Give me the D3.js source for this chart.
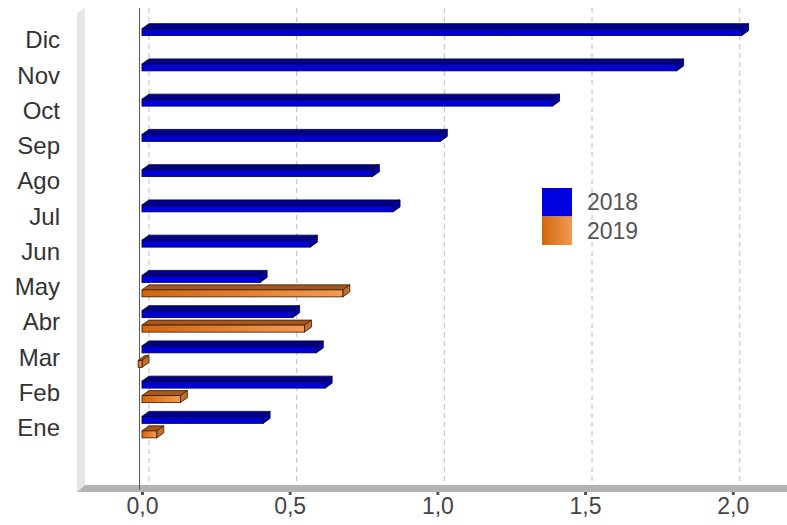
<!DOCTYPE html>
<html>
<head>
<meta charset="utf-8">
<script src="https://cdn.jsdelivr.net/npm/d3@7"></script>
<style>
  body { margin: 0; background: #fff; }
  svg { display: block; font-family: "Liberation Sans", Arial, sans-serif; }
</style>
</head>
<body>
<svg width="787" height="525"></svg>
<script>
var months = ["Ene", "Feb", "Mar", "Abr", "May", "Jun", "Jul", "Ago", "Sep", "Oct", "Nov", "Dic"];
var series = ["2018", "2019"];
var values2018 = [0.41, 0.62, 0.59, 0.51, 0.40, 0.57, 0.85, 0.78, 1.01, 1.39, 1.81, 2.03];
var values2019 = [0.05, 0.13, -0.013, 0.55, 0.68, null, null, null, null, null, null, null];
var xTicks = [0, 0.5, 1, 1.5, 2];

var svg = d3.select("svg"),
    width = +svg.attr("width"),
    height = +svg.attr("height");

var dx = 7, dy = 5;           // depth of bars
var wdx = 8, wdy = 7;         // depth of wall / floor
var plotLeft = 77, plotRight = 780, plotTop = 13, plotBottom = 492;

var x = d3.scaleLinear().domain([-0.22, 2.16]).range([plotLeft, plotRight]);
var y = d3.scaleBand().domain(months).range([446, 23]);
var ySub = d3.scaleBand().domain(series).range([-12, 9.5]).paddingInner(0.517);

var locale = d3.formatLocale({ decimal: ",", thousands: ".", grouping: [3], currency: ["", "€"] });
var fmt = locale.format(".1f");

var defs = svg.append("defs");
var og = defs.append("linearGradient").attr("id", "orangeGrad")
    .attr("x1", "0%").attr("x2", "100%").attr("y1", "0%").attr("y2", "0%");
og.append("stop").attr("offset", "0%").attr("stop-color", "#d2660f");
og.append("stop").attr("offset", "100%").attr("stop-color", "#f49a52");

var bg = defs.append("linearGradient").attr("id", "blueGrad")
    .attr("x1", "0%").attr("x2", "0%").attr("y1", "0%").attr("y2", "100%");
bg.append("stop").attr("offset", "0%").attr("stop-color", "#0000b8");
bg.append("stop").attr("offset", "100%").attr("stop-color", "#0000f0");

var styles = {
    "2018": { front: "url(#blueGrad)", top: "#00008a", side: "#0000a8", stroke: "#000030", swatch: "#0000e0" },
    "2019": { front: "url(#orangeGrad)", top: "#a8561f", side: "#c0702e", stroke: "#3a1a00", swatch: "url(#orangeGrad)" }
};

// wall
svg.append("path")
    .attr("d", "M" + plotLeft + "," + plotBottom + "L" + plotLeft + "," + plotTop +
        "L" + (plotLeft + wdx) + "," + (plotTop - 5) + "L" + (plotLeft + wdx) + "," + (plotBottom - wdy) + "Z")
    .attr("fill", "#e6e6e6");

// floor
svg.append("path")
    .attr("d", "M" + plotLeft + "," + plotBottom + "L" + (plotLeft + wdx) + "," + (plotBottom - wdy) +
        "L" + width + "," + (plotBottom - wdy) + "L" + width + "," + plotBottom + "Z")
    .attr("fill", "#b3b3b3");

// grid lines (back plane)
svg.append("g")
    .selectAll("line")
    .data(xTicks)
    .enter().append("line")
    .attr("x1", function (d) { return x(d) + dx; })
    .attr("x2", function (d) { return x(d) + dx; })
    .attr("y1", plotTop - 5)
    .attr("y2", plotBottom - wdy)
    .attr("stroke", "#c8c8c8")
    .attr("stroke-width", 1.2)
    .attr("stroke-dasharray", "5,4");

// vertical reference line
svg.append("line")
    .attr("x1", x(0) - 2.5).attr("x2", x(0) - 2.5)
    .attr("y1", plotTop - 5).attr("y2", plotBottom - 2)
    .attr("stroke", "#555")
    .attr("stroke-width", 1);

// bars
var data = [];
months.forEach(function (m, i) {
    data.push({ month: m, series: "2018", value: values2018[i] });
    if (values2019[i] != null) data.push({ month: m, series: "2019", value: values2019[i] });
});

var bars = svg.append("g")
    .selectAll("g")
    .data(data)
    .enter().append("g");

function geom(d) {
    var x0 = x(Math.min(0, d.value)), x1 = x(Math.max(0, d.value));
    var y0 = y(d.month) + y.bandwidth() / 2 + ySub(d.series);
    var h = ySub.bandwidth();
    return { x0: x0, x1: x1, y0: y0, y1: y0 + h };
}

bars.append("path")
    .attr("d", function (d) {
        var g = geom(d);
        return "M" + g.x0 + "," + g.y0 + "L" + (g.x0 + dx) + "," + (g.y0 - dy) +
            "L" + (g.x1 + dx) + "," + (g.y0 - dy) + "L" + g.x1 + "," + g.y0 + "Z";
    })
    .attr("fill", function (d) { return styles[d.series].top; })
    .attr("stroke", function (d) { return styles[d.series].stroke; })
    .attr("stroke-width", 0.8);

bars.append("path")
    .attr("d", function (d) {
        var g = geom(d);
        return "M" + g.x1 + "," + g.y0 + "L" + (g.x1 + dx) + "," + (g.y0 - dy) +
            "L" + (g.x1 + dx) + "," + (g.y1 - dy) + "L" + g.x1 + "," + g.y1 + "Z";
    })
    .attr("fill", function (d) { return styles[d.series].side; })
    .attr("stroke", function (d) { return styles[d.series].stroke; })
    .attr("stroke-width", 0.8);

bars.append("rect")
    .attr("x", function (d) { return geom(d).x0; })
    .attr("y", function (d) { return geom(d).y0; })
    .attr("width", function (d) { var g = geom(d); return g.x1 - g.x0; })
    .attr("height", ySub.bandwidth())
    .attr("fill", function (d) { return styles[d.series].front; })
    .attr("stroke", function (d) { return styles[d.series].stroke; })
    .attr("stroke-width", 0.8);

// x axis
var xAxis = svg.append("g")
    .attr("transform", "translate(0," + plotBottom + ")")
    .call(d3.axisBottom(x).tickValues(xTicks).tickFormat(fmt).tickSize(3).tickPadding(3));
xAxis.select(".domain").remove();
xAxis.selectAll(".tick line").attr("stroke", "#555").attr("stroke-width", 3);
xAxis.selectAll(".tick text").attr("fill", "#444").style("font-size", "23px");

// y axis
var yAxis = svg.append("g")
    .attr("transform", "translate(60,0)")
    .call(d3.axisLeft(y).tickSize(0).tickPadding(0));
yAxis.select(".domain").remove();
yAxis.selectAll(".tick text").attr("fill", "#333").style("font-size", "24px");

// legend
var legend = svg.append("g")
    .attr("transform", "translate(542,188)")
    .selectAll("g")
    .data(series)
    .enter().append("g")
    .attr("transform", function (d, i) { return "translate(0," + i * 28.5 + ")"; });

legend.append("rect")
    .attr("width", 30)
    .attr("height", 28.5)
    .attr("fill", function (d) { return styles[d].swatch; });

legend.append("text")
    .attr("x", 45)
    .attr("y", 14)
    .attr("dy", "0.36em")
    .attr("fill", "#555")
    .style("font-size", "23px")
    .text(function (d) { return d; });
</script>
</body>
</html>
